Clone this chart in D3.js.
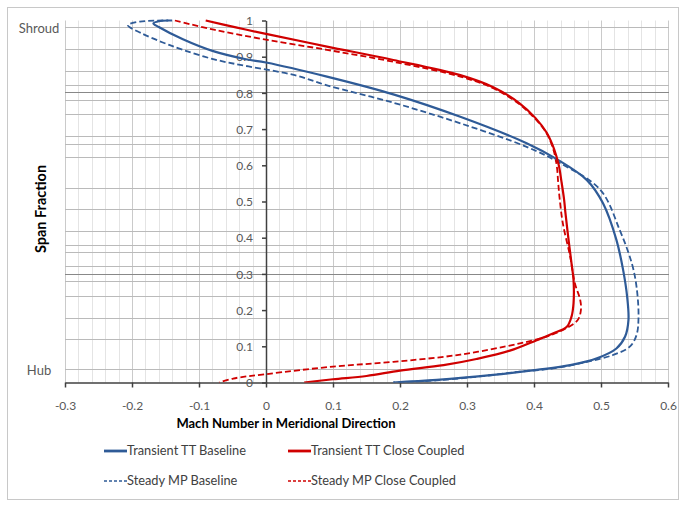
<!DOCTYPE html>
<html><head><meta charset="utf-8">
<script src="https://cdn.jsdelivr.net/npm/d3@7"></script>
<style>
html,body{margin:0;padding:0;background:#fff;}
svg text{font-family:Lato,"Open Sans","Liberation Sans",sans-serif;}
</style></head>
<body><svg id="chart" width="683" height="508"></svg>
<script>
// ---- data (Mach number, span fraction) ----
const transientBaseline = [[-0.146,1.0],[-0.16,0.998],[-0.168,0.992],[-0.16,0.982],[-0.124,0.948],[-0.08,0.916],[-0.03,0.893],[0.0,0.884],[0.091,0.845],[0.19,0.796],[0.29,0.734],[0.389,0.661],[0.434,0.617],[0.479,0.559],[0.503,0.495],[0.523,0.394],[0.533,0.311],[0.539,0.237],[0.541,0.173],[0.536,0.127],[0.523,0.094],[0.494,0.067],[0.454,0.048],[0.404,0.035],[0.339,0.021],[0.255,0.007],[0.19,0.0]];
const steadyBaseline = [[-0.14,1.0],[-0.188,0.997],[-0.206,0.987],[-0.186,0.965],[-0.155,0.94],[-0.124,0.919],[-0.076,0.892],[-0.026,0.873],[0.043,0.849],[0.091,0.821],[0.19,0.773],[0.29,0.716],[0.389,0.651],[0.439,0.606],[0.499,0.532],[0.528,0.421],[0.546,0.329],[0.553,0.265],[0.556,0.182],[0.553,0.131],[0.543,0.099],[0.518,0.076],[0.479,0.057],[0.429,0.039],[0.379,0.03],[0.33,0.019],[0.255,0.006],[0.19,0.0]];
const transientClose = [[-0.09,1.0],[-0.045,0.981],[0.0,0.963],[0.091,0.928],[0.19,0.891],[0.29,0.849],[0.34,0.815],[0.378,0.772],[0.402,0.731],[0.419,0.69],[0.43,0.645],[0.437,0.6],[0.441,0.555],[0.445,0.504],[0.447,0.467],[0.451,0.403],[0.456,0.329],[0.459,0.283],[0.459,0.219],[0.456,0.182],[0.449,0.154],[0.429,0.136],[0.404,0.117],[0.364,0.088],[0.314,0.065],[0.265,0.048],[0.2,0.033],[0.15,0.018],[0.1,0.009],[0.057,0.0]];
const steadyClose = [[-0.136,1.0],[-0.076,0.974],[0.0,0.947],[0.091,0.919],[0.19,0.886],[0.29,0.845],[0.34,0.812],[0.378,0.769],[0.402,0.728],[0.419,0.688],[0.429,0.643],[0.434,0.598],[0.436,0.555],[0.438,0.513],[0.443,0.44],[0.454,0.348],[0.461,0.274],[0.469,0.228],[0.47,0.2],[0.465,0.172],[0.444,0.146],[0.419,0.127],[0.379,0.108],[0.29,0.077],[0.19,0.057],[0.1,0.044],[0.0,0.023],[-0.049,0.011],[-0.07,0.0]];

const seriesNames = ["Transient TT Baseline","Transient TT Close Coupled","Steady MP Baseline","Steady MP Close Coupled"];
const xTicks = [-0.3,-0.2,-0.1,0,0.1,0.2,0.3,0.4,0.5,0.6];
const xTickLabels = ["-0.3","-0.2","-0.1","0","0.1","0.2","0.3","0.4","0.5","0.6"];
const yTicks = [0,0.1,0.2,0.3,0.4,0.5,0.6,0.7,0.8,0.9,1];
const yTickLabels = ["0","0.1","0.2","0.3","0.4","0.5","0.6","0.7","0.8","0.9","1"];
const spanGridLines = [0.983,0.92,0.86,0.821,0.781,0.741,0.68,0.66,0.622,0.538,0.479,0.418,0.379,0.36,0.321,0.28,0.24,0.179,0.119,0.036];
const spanGridDark = [0.802,0.3];
const spanLabels = [["Shroud",0.978],["Hub",0.032]];

// ---- drawing ----
const svg = d3.select("#chart");
const x = d3.scaleLinear().domain([-0.3,0.6]).range([65,668]);
const y = d3.scaleLinear().domain([0,1]).range([382.5,20.5]);

svg.append("rect").attr("x",7.5).attr("y",7.5).attr("width",671).attr("height",492)
  .attr("fill","#fff").attr("stroke","#c8c8c8").attr("stroke-width",1);

// vertical grid
const minorX = d3.range(0,46).map(i=>+(-0.3+i*0.02).toFixed(2));
svg.append("g").selectAll("line").data(minorX).join("line")
  .attr("x1",d=>Math.round(x(d))+0.5).attr("x2",d=>Math.round(x(d))+0.5)
  .attr("y1",y(1)).attr("y2",y(0))
  .attr("stroke",d=>Math.abs(Math.round(d*10)-d*10)<1e-6?"#cacaca":"#e4e4e4").attr("stroke-width",1);

// horizontal grid
svg.append("g").selectAll("line").data(spanGridLines).join("line")
  .attr("x1",x(-0.3)).attr("x2",x(0.6)+1)
  .attr("y1",d=>Math.round(y(d))+0.5).attr("y2",d=>Math.round(y(d))+0.5)
  .attr("stroke","#bababa").attr("stroke-width",1);
svg.append("g").selectAll("line").data(spanGridDark).join("line")
  .attr("x1",x(-0.3)).attr("x2",x(0.6)+1)
  .attr("y1",d=>Math.round(y(d))+0.5).attr("y2",d=>Math.round(y(d))+0.5)
  .attr("stroke","#888888").attr("stroke-width",1);

// axes
const xAxis = d3.axisBottom(x).tickValues(xTicks).tickFormat((d,i)=>xTickLabels[i]).tickSizeInner(5).tickSizeOuter(0).tickPadding(14);
const gx = svg.append("g").attr("transform",`translate(0,${y(0)})`).call(xAxis);
const yAxis = d3.axisLeft(y).tickValues(yTicks).tickFormat((d,i)=>yTickLabels[i]).tickSizeInner(4).tickSizeOuter(0).tickPadding(9);
const gy = svg.append("g").attr("transform",`translate(${x(0)},0)`).call(yAxis);
[gx,gy].forEach(g=>{
  g.select(".domain").attr("stroke","#404040").attr("stroke-width",1.5);
  g.selectAll(".tick line").attr("stroke","#404040").attr("stroke-width",1.5);
  g.selectAll(".tick text").attr("fill","#595959").style("font-size","12px").style("font-family","Lato, 'Open Sans', sans-serif");
});
gy.selectAll(".tick text").attr("dy","0.35em");

// span labels
svg.append("g").selectAll("text").data(spanLabels).join("text")
  .attr("x",39).attr("y",d=>y(d[1])).attr("dy","0.35em").attr("text-anchor","middle")
  .attr("fill","#595959").style("font-size","13px").text(d=>d[0]);

// axis titles
svg.append("text").attr("x",286).attr("y",428).attr("text-anchor","middle")
  .attr("fill","#000").style("font-weight","bold").style("font-size","13px")
  .text("Mach Number in Meridional Direction");
svg.append("text").attr("transform","translate(46,209) rotate(-90)").attr("text-anchor","middle")
  .attr("fill","#000").style("font-weight","bold").style("font-size","14.5px")
  .text("Span Fraction");

// curves
const line = d3.line().x(d=>x(d[0])).y(d=>y(d[1])).curve(d3.curveCatmullRom.alpha(0.5));
const blue = "#2f5b97", red = "#d00000";
const series = [
  {data:steadyBaseline, color:blue, dash:"6,3", w:1.8},
  {data:steadyClose, color:red, dash:"6,3", w:1.8},
  {data:transientBaseline, color:blue, dash:null, w:2.2},
  {data:transientClose, color:red, dash:null, w:2.2}
];
svg.append("clipPath").attr("id","pc").append("rect")
  .attr("x",x(-0.3)).attr("y",y(1)-3).attr("width",x(0.6)-x(-0.3)).attr("height",y(0)-y(1)+3);
svg.append("g").attr("clip-path","url(#pc)").selectAll("path").data(series).join("path")
  .attr("d",d=>line(d.data)).attr("fill","none").attr("stroke",d=>d.color)
  .attr("stroke-width",d=>d.w).attr("stroke-dasharray",d=>d.dash).attr("stroke-linejoin","round");

// legend
const legend = [
  {name:seriesNames[0], color:blue, dash:null, lx:104, ly:451},
  {name:seriesNames[1], color:red, dash:null, lx:288, ly:451},
  {name:seriesNames[2], color:blue, dash:"3,2", lx:104, ly:481},
  {name:seriesNames[3], color:red, dash:"3,2", lx:288, ly:481}
];
const lg = svg.append("g").selectAll("g").data(legend).join("g");
lg.append("line").attr("x1",d=>d.lx).attr("x2",d=>d.lx+23).attr("y1",d=>d.ly).attr("y2",d=>d.ly)
  .attr("stroke",d=>d.color).attr("stroke-width",d=>d.dash?1.3:2.8).attr("stroke-dasharray",d=>d.dash);
lg.append("text").attr("x",d=>d.lx+23).attr("y",d=>d.ly).attr("dy","0.35em")
  .attr("fill","#404040").style("font-size","12.8px").text(d=>d.name);
</script></body></html>
